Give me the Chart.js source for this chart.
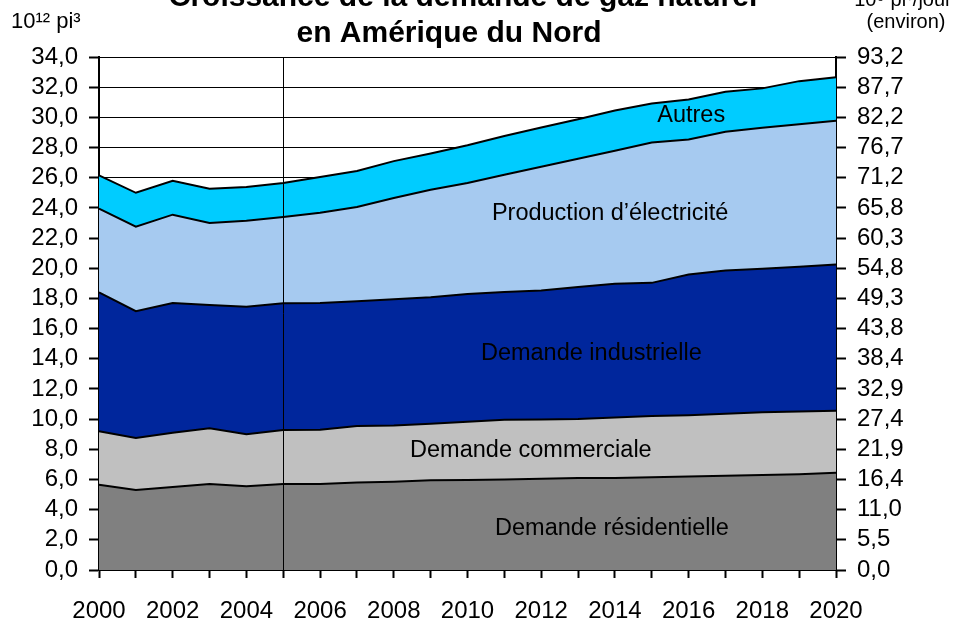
<!DOCTYPE html>
<html lang="fr">
<head>
<meta charset="utf-8">
<title>Croissance de la demande de gaz naturel en Amérique du Nord</title>
<script src="https://cdn.jsdelivr.net/npm/chart.js@4.4.1/dist/chart.umd.min.js"></script>
<style>
  html, body { margin: 0; padding: 0; background: #fff; }
  #wrap { width: 953px; height: 621px; position: relative; }
</style>
</head>
<body>
<div id="wrap"><canvas id="gasChart"></canvas></div>
<script>
// Data (10^12 pi3 per year, each layer's own share)
const years = ['2000', '2001', '2002', '2003', '2004', '2005', '2006', '2007', '2008', '2009', '2010',
  '2011', '2012', '2013', '2014', '2015', '2016', '2017', '2018', '2019', '2020'];
const residentielle = [5.65, 5.3, 5.5, 5.7, 5.55, 5.7, 5.7, 5.8, 5.85, 5.95, 5.97, 6.0, 6.05, 6.1, 6.1, 6.15, 6.2, 6.25, 6.3, 6.35, 6.45];
const commerciale = [3.55, 3.45, 3.6, 3.7, 3.45, 3.58, 3.6, 3.75, 3.72, 3.75, 3.86, 3.95, 3.92, 3.9, 4.0, 4.05, 4.05, 4.1, 4.15, 4.15, 4.1];
const industrielle = [9.2, 8.4, 8.6, 8.17, 8.45, 8.4, 8.4, 8.27, 8.38, 8.38, 8.47, 8.47, 8.56, 8.75, 8.87, 8.83, 9.33, 9.5, 9.52, 9.6, 9.7];
const electricite = [5.55, 5.6, 5.85, 5.43, 5.7, 5.72, 5.98, 6.24, 6.71, 7.12, 7.35, 7.78, 8.2, 8.5, 8.81, 9.3, 8.95, 9.19, 9.34, 9.45, 9.52];
const autres = [2.2, 2.25, 2.25, 2.27, 2.23, 2.25, 2.37, 2.39, 2.44, 2.4, 2.5, 2.57, 2.6, 2.63, 2.68, 2.59, 2.66, 2.66, 2.61, 2.85, 2.88];

// Right axis labels (10^9 pi3/jour), one per left tick from 0 to 34
const rightTickLabels = ['0,0', '5,5', '11,0', '16,4', '21,9', '27,4', '32,9', '38,4', '43,8',
  '49,3', '54,8', '60,3', '65,8', '71,2', '76,7', '82,2', '87,7', '93,2'];

const splitYear = '2005';

// Text placed inside the areas (x = year index, y = axis value)
const areaLabels = [
  { text: 'Autres', x: 16.07, y: 30.1 },
  { text: 'Production d\u2019électricité', x: 13.87, y: 23.6 },
  { text: 'Demande industrielle', x: 13.36, y: 14.33 },
  { text: 'Demande commerciale', x: 11.72, y: 7.93 },
  { text: 'Demande résidentielle', x: 13.92, y: 2.75 },
];

const FONT = 'Arial, "Liberation Sans", sans-serif';

function layer(label, data, color, fill) {
  return {
    label,
    data,
    backgroundColor: color,
    borderColor: '#000',
    borderWidth: 2,
    pointRadius: 0,
    tension: 0,
    fill,
  };
}

// Titles, unit captions, the 2005 divider and the area labels
const decorations = {
  id: 'decorations',
  afterDatasetsDraw(chart) {
    const { ctx, chartArea, scales } = chart;
    const x = scales.x.getPixelForValue(years.indexOf(splitYear));
    ctx.save();
    ctx.strokeStyle = '#000';
    ctx.lineWidth = 1;
    ctx.beginPath();
    ctx.moveTo(Math.round(x) + 0.5, chartArea.top);
    ctx.lineTo(Math.round(x) + 0.5, chartArea.bottom);
    ctx.stroke();

    ctx.fillStyle = '#000';
    ctx.font = '23.5px ' + FONT;
    ctx.textAlign = 'center';
    ctx.textBaseline = 'middle';
    areaLabels.forEach(l => {
      ctx.fillText(l.text, scales.x.getPixelForValue(l.x), scales.y.getPixelForValue(l.y));
    });
    ctx.restore();
  },
  afterDraw(chart) {
    const { ctx } = chart;
    ctx.save();
    ctx.fillStyle = '#000';
    ctx.textBaseline = 'alphabetic';
    ctx.textAlign = 'center';
    ctx.font = 'bold 30px ' + FONT;
    ctx.fillText('Croissance de la demande de gaz naturel', 463, 6);
    ctx.fillText('en Amérique du Nord', 449, 42);

    ctx.font = '20px ' + FONT;
    ctx.fillText('10\u2079 pi\u00b3/jour', 903, 6);
    ctx.fillText('(environ)', 906, 28);

    ctx.textAlign = 'left';
    ctx.font = '22px ' + FONT;
    ctx.fillText('10\u00b9\u00b2 pi\u00b3', 11, 28);
    ctx.restore();
  },
};

// Render chart
const ctx = document.getElementById('gasChart').getContext('2d');
new Chart(ctx, {
  type: 'line',
  data: {
    labels: years,
    datasets: [
      layer('Demande résidentielle', residentielle, '#808080', 'origin'),
      layer('Demande commerciale', commerciale, '#C0C0C0', '-1'),
      layer('Demande industrielle', industrielle, '#00269C', '-1'),
      layer('Production d\u2019électricité', electricite, '#A6CAF0', '-1'),
      layer('Autres', autres, '#00CCFF', '-1'),
    ],
  },
  options: {
    responsive: true,
    maintainAspectRatio: false,
    animation: false,
    layout: { padding: { top: 57, left: 0, right: 0, bottom: 0 } },
    plugins: {
      legend: { display: false },
      tooltip: { enabled: false },
    },
    scales: {
      x: {
        offset: false,
        afterFit: (scale) => { scale.height = 51; },
        grid: { drawOnChartArea: false, tickLength: 8, tickWidth: 2, tickColor: '#000' },
        border: { color: '#000', width: 2 },
        ticks: {
          autoSkip: false,
          maxRotation: 0,
          padding: 19,
          color: '#000',
          font: { family: FONT, size: 24 },
          callback: (v, i) => (i % 2 === 0 ? years[i] : ''),
        },
      },
      y: {
        stacked: true,
        min: 0,
        max: 34,
        afterFit: (scale) => { scale.width = 99; },
        grid: { color: '#000', lineWidth: 1, tickLength: 10, tickWidth: 2, tickColor: '#000' },
        border: { color: '#000', width: 2 },
        ticks: {
          stepSize: 2,
          autoSkip: false,
          padding: 11,
          color: '#000',
          font: { family: FONT, size: 24 },
          callback: (v) => v.toFixed(1).replace('.', ','),
        },
      },
      y2: {
        position: 'right',
        min: 0,
        max: 34,
        afterFit: (scale) => { scale.width = 117; },
        grid: { drawOnChartArea: false, tickLength: 10, tickWidth: 2, tickColor: '#000' },
        border: { color: '#000', width: 2 },
        ticks: {
          stepSize: 2,
          autoSkip: false,
          padding: 11,
          color: '#000',
          font: { family: FONT, size: 24 },
          callback: (v, i) => rightTickLabels[i],
        },
      },
    },
  },
  plugins: [decorations],
});
</script>
</body>
</html>
